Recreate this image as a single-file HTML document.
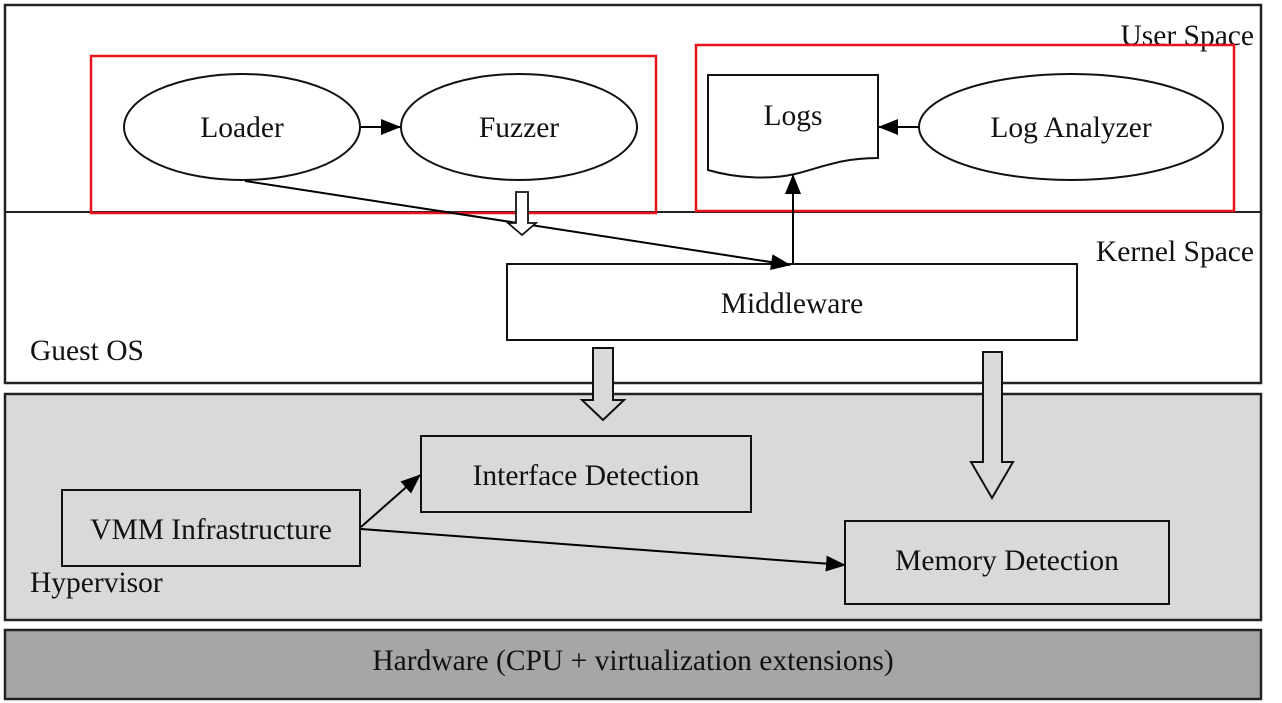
<!DOCTYPE html>
<html><head><meta charset="utf-8"><style>
html,body{margin:0;padding:0;background:#fff;}
svg{display:block;}
text{font-family:"Liberation Serif",serif;font-size:29.5px;fill:#111;}
</style></head><body>
<svg width="1282" height="703" viewBox="0 0 1282 703" xmlns="http://www.w3.org/2000/svg">
<defs>
<marker id="ah2" markerWidth="20" markerHeight="16" refX="19" refY="8" orient="auto" markerUnits="userSpaceOnUse" viewBox="0 0 20 16">
<path d="M0,0 L20,8 L0,16 z" fill="#000"/>
</marker>
</defs>
<rect x="5" y="5" width="1256" height="378" fill="#fff" stroke="#222" stroke-width="2.5"/>
<line x1="5" y1="212" x2="1261" y2="212" stroke="#222" stroke-width="2"/>
<text x="1254" y="45" text-anchor="end">User Space</text>
<text x="1254" y="261" text-anchor="end">Kernel Space</text>
<text x="30" y="360">Guest OS</text>
<rect x="5" y="394" width="1256" height="226" fill="#d9d9d9" stroke="#222" stroke-width="2.5"/>
<text x="30" y="592">Hypervisor</text>
<rect x="5" y="630" width="1256" height="69" fill="#a6a6a6" stroke="#222" stroke-width="2.5"/>
<text x="633" y="670" text-anchor="middle">Hardware (CPU + virtualization extensions)</text>

<ellipse cx="242" cy="127" rx="118" ry="53" fill="#fff" stroke="#111" stroke-width="2"/>
<text x="242" y="137" text-anchor="middle">Loader</text>
<ellipse cx="519" cy="127" rx="118" ry="53" fill="#fff" stroke="#111" stroke-width="2"/>
<text x="519" y="137" text-anchor="middle">Fuzzer</text>
<line x1="360" y1="127" x2="400" y2="127" stroke="#000" stroke-width="2" marker-end="url(#ah2)"/>
<ellipse cx="1071" cy="127" rx="152" ry="53" fill="#fff" stroke="#111" stroke-width="2"/>
<text x="1071" y="137" text-anchor="middle">Log Analyzer</text>
<path d="M708,75 L878,75 L878,158 C840,158 820,168 795,174 C770,180 735,178 708,170 Z" fill="#fff" stroke="#111" stroke-width="2"/>
<text x="793" y="125" text-anchor="middle">Logs</text>
<line x1="919" y1="127" x2="879" y2="127" stroke="#000" stroke-width="2" marker-end="url(#ah2)"/>

<rect x="91" y="56" width="565" height="157" fill="none" stroke="#e8141c" stroke-width="2.5"/>
<rect x="696" y="45" width="538" height="166" fill="none" stroke="#e8141c" stroke-width="2.5"/>

<rect x="507" y="264" width="570" height="76" fill="#fff" stroke="#111" stroke-width="2"/>
<text x="792" y="313" text-anchor="middle">Middleware</text>
<line x1="245" y1="181" x2="790" y2="265" stroke="#000" stroke-width="2" marker-end="url(#ah2)"/>
<line x1="793" y1="264" x2="793" y2="175" stroke="#000" stroke-width="2" marker-end="url(#ah2)"/>
<path d="M516,192 L528,192 L528,223 L536,223 L522,235 L508,223 L516,223 Z" fill="#fff" stroke="#111" stroke-width="1.8"/>
<path d="M593,348 L613,348 L613,400 L624,400 L603,420 L582,400 L593,400 Z" fill="#d9d9d9" stroke="#111" stroke-width="2"/>
<path d="M983,352 L1002,352 L1002,462 L1013,462 L992,498 L971,462 L983,462 Z" fill="#d9d9d9" stroke="#111" stroke-width="2"/>

<rect x="421" y="436" width="330" height="76" fill="#d9d9d9" stroke="#111" stroke-width="2"/>
<text x="586" y="485" text-anchor="middle">Interface Detection</text>
<rect x="62" y="490" width="298" height="76" fill="#d9d9d9" stroke="#111" stroke-width="2"/>
<text x="211" y="539" text-anchor="middle">VMM Infrastructure</text>
<rect x="845" y="521" width="324" height="83" fill="#d9d9d9" stroke="#111" stroke-width="2"/>
<text x="1007" y="570" text-anchor="middle">Memory Detection</text>
<line x1="361" y1="527" x2="420" y2="475" stroke="#000" stroke-width="2" marker-end="url(#ah2)"/>
<line x1="361" y1="529" x2="845" y2="565" stroke="#000" stroke-width="2" marker-end="url(#ah2)"/>
</svg>
</body></html>
